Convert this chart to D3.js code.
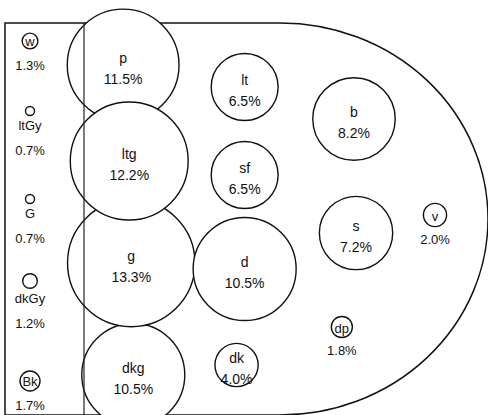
<!DOCTYPE html>
<html>
<head>
<meta charset="utf-8">
<script src="https://cdn.jsdelivr.net/npm/d3@7"></script>
<style>
  body { margin: 0; background: #fff; }
  text { font-family: "Liberation Sans", Arial, sans-serif; font-size: 13px; fill: #111; }
  text.in { font-size: 14px; }
</style>
</head>
<body>
<svg></svg>
<script>
const WIDTH = 488;
const HEIGHT = 415;

// tone names, share of each tone (%), and where it sits in the tone map
const tones = ['w', 'ltGy', 'G', 'dkGy', 'Bk',
  'p', 'lt', 'b', 'v', 'dkg', 'dk', 'dp', 'g', 'd', 's', 'ltg', 'sf'];
const shares = [1.3, 0.7, 0.7, 1.2, 1.7,
  11.5, 6.5, 8.2, 2.0, 10.5, 4.0, 1.8, 13.3, 10.5, 7.2, 12.2, 6.5];
const saturation = [0, 0, 0, 0, 0,
  2.3, 5.3, 8.0, 10, 2.55, 5.1, 7.7, 2.5, 5.3, 8.05, 2.45, 5.3];
const lightness = [9.35, 7.6, 5.4, 3.35, 0.85,
  8.75, 8.2, 7.4, 5.0, 1.0, 1.25, 2.2, 3.8, 3.65, 4.55, 6.35, 6.0];

window.onload = () => {
  const data = tones.map((t, i) => ({
    tone: t, share: shares[i], s: saturation[i], l: lightness[i]
  }));

  const svg = d3.select('svg')
      .attr('width', WIDTH)
      .attr('height', HEIGHT);

  const x = d3.scaleLinear().domain([0, 10]).range([30, 435]);
  const y = d3.scaleLinear().domain([0, 10]).range([415, 15]);
  const r = d3.scalePow().exponent(0.9).domain([0, 10.5]).range([0, 51.5]);

  // outline: box on the left, half ellipse on the right
  const top = 23, bottom = 415, left = 5, mid = 280, rx = 208;
  svg.append('path')
      .attr('d', `M${left},${bottom} V${top} H${mid} ` +
        `A${rx},${(bottom - top) / 2} 0 0 1 ${mid},${bottom} Z`)
      .attr('fill', 'none')
      .attr('stroke', '#111')
      .attr('stroke-width', 1.5);

  const g = svg.append('g');
  const node = g.selectAll('g.tone')
      .data(data)
    .enter().append('g')
      .attr('class', 'tone')
      .attr('transform', (d) => `translate(${x(d.s)},${y(d.l)})`);

  node.append('circle')
      .attr('r', (d) => r(d.share))
      .attr('fill', '#fff')
      .attr('stroke', '#111')
      .attr('stroke-width', 1.4);

  // divider between achromatic and chromatic tones, drawn over the circles
  svg.append('line')
      .attr('x1', 84).attr('x2', 84)
      .attr('y1', top).attr('y2', bottom)
      .attr('stroke', '#222')
      .attr('stroke-width', 1.2);

  const insideName = new Set(['w', 'Bk']);

  node.each(function(d) {
    const sel = d3.select(this);
    const rad = r(d.share);
    let nameY, pctY, cls = '';
    if (d.s === 0) {
      if (insideName.has(d.tone)) {
        nameY = 0;
        pctY = 24;
      } else {
        nameY = rad + 10;
        pctY = nameY + 25;
      }
    } else if (rad < 15) {
      nameY = 1;
      pctY = rad + 13;
    } else {
      nameY = -7;
      pctY = 14;
      cls = 'in';
    }
    sel.append('text')
        .attr('class', cls)
        .attr('text-anchor', 'middle')
        .attr('dominant-baseline', 'central')
        .attr('y', nameY)
        .text(d.tone);
    sel.append('text')
        .attr('class', cls)
        .attr('text-anchor', 'middle')
        .attr('dominant-baseline', 'central')
        .attr('y', pctY)
        .text(d3.format('.1f')(d.share) + '%');
  });
};
</script>
</body>
</html>
